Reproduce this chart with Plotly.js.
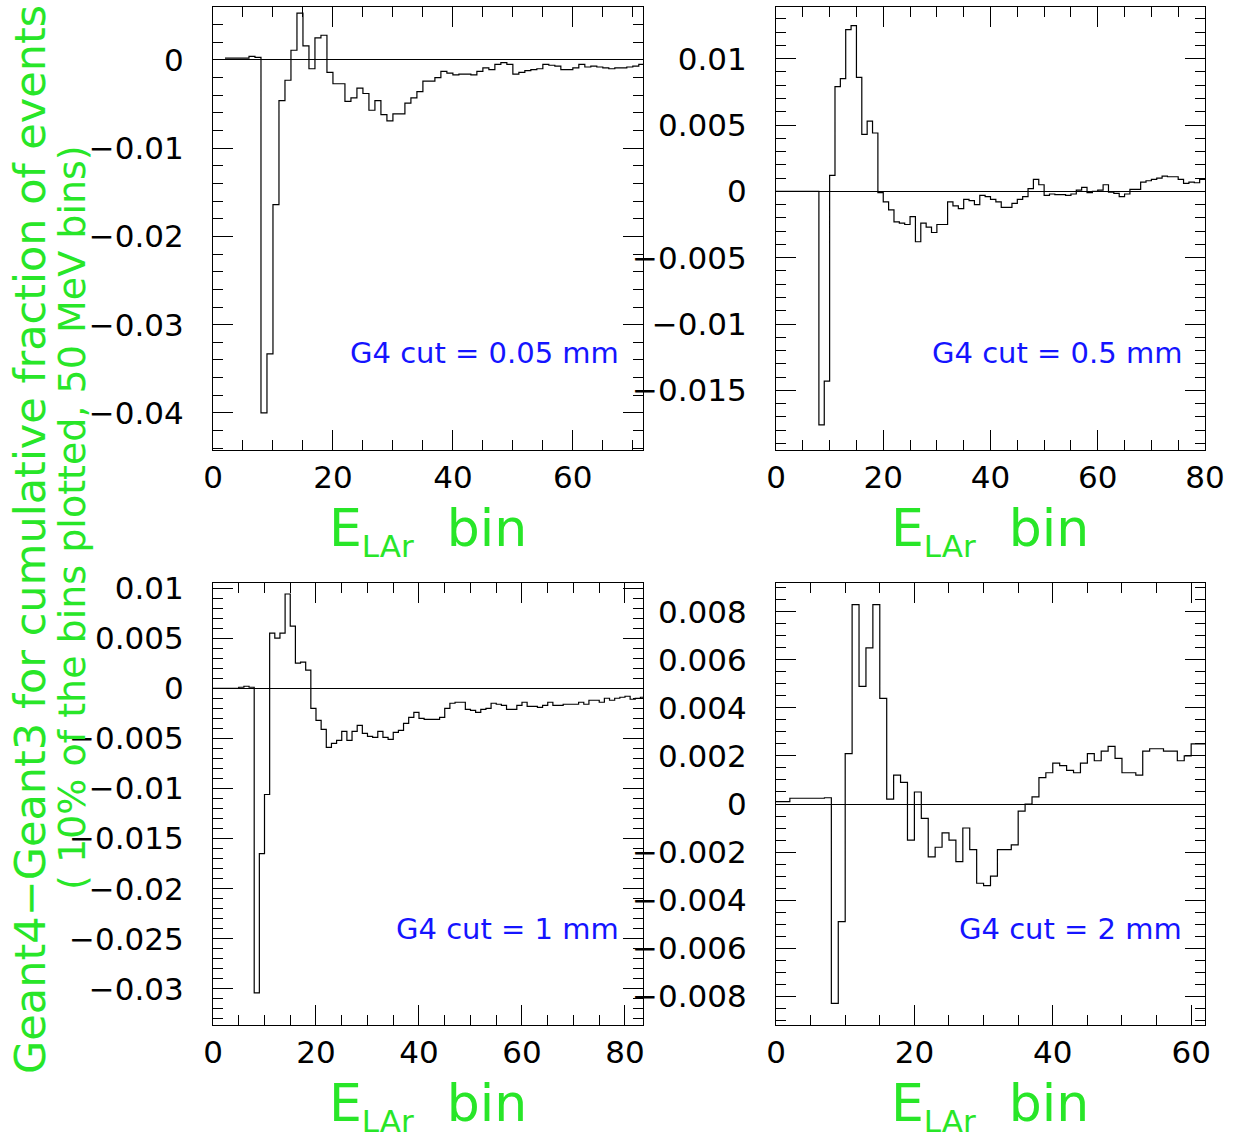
<!DOCTYPE html>
<html>
<head>
<meta charset="utf-8">
<script src="https://cdn.plot.ly/plotly-3.0.1.min.js"></script>
<style>html,body{margin:0;padding:0;background:#fff;}</style>
</head>
<body>
<div id="chart" style="width:1236px;height:1138px;"></div>
<script>
// ---- Data: Geant4 - Geant3 difference per E_LAr bin (bin width 1) ----
const startCut005 = 2;
const valsCut005 = [
  0.0002, 0.0002, 0.0002, 0.0002, 0.0004, 0.0003,
  -0.0400, -0.0333, -0.0164, -0.0046, -0.0023, 0.0011, 0.0053, 0.0016, -0.0010, 0.0025,
  0.0028, -0.0014, -0.0027, -0.0027, -0.0047, -0.0043, -0.0032, -0.0038, -0.0057, -0.0046,
  -0.0062, -0.0069, -0.0061, -0.0061, -0.0049, -0.0043, -0.0036, -0.0024, -0.0024, -0.0020,
  -0.0013, -0.0015, -0.0017, -0.0016, -0.0016, -0.0017, -0.0013, -0.0009, -0.0011, -0.0005,
  -0.0003, -0.0005, -0.0016, -0.0014, -0.0012, -0.0011, -0.0010, -0.0005, -0.0006, -0.0007,
  -0.0011, -0.0011, -0.0009, -0.0005, -0.0008, -0.0007, -0.0008, -0.0009, -0.0010, -0.0009,
  -0.0009, -0.0008, -0.0007, -0.0005
];

const startCut05 = 0;
const valsCut05 = [
  0, 0, 0, 0, 0, 0, 0, 0,
  -0.0176, -0.0143, 0.0012, 0.0079, 0.0085, 0.0122, 0.0125, 0.0086, 0.0043, 0.0053,
  0.0044, -0.0001, -0.0008, -0.0014, -0.0023, -0.0024, -0.0025, -0.0019, -0.0038, -0.0024,
  -0.0027, -0.0031, -0.0025, -0.0025, -0.0008, -0.0011, -0.0013, -0.0006, -0.0007, -0.0010,
  -0.0003, -0.0004, -0.0006, -0.0008, -0.0012, -0.0012, -0.0009, -0.0006, -0.0004, 0.0002,
  0.0009, 0.0005, -0.0003, -0.0002, -0.00025, -0.00025, -0.0003, -0.0002, 0.0001, 0.0003,
  -0.0001, 0.0000, 0.0001, 0.0005, -0.00005, -0.00015, -0.0004, -0.0002, 0.00015, 0.00015,
  0.0007, 0.0008, 0.0009, 0.0010, 0.00115, 0.0011, 0.0011, 0.0009, 0.0006, 0.0007,
  0.00065, 0.0009
];

const startCut1 = 0;
const valsCut1 = [
  0, 0, 0, 0, 0, 0.0001, 0.0002, 0.0001,
  -0.0304, -0.0165, -0.0106, 0.0055, 0.0050, 0.0055, 0.0094, 0.0062, 0.0025, 0.0026,
  0.0018, -0.0020, -0.0032, -0.0041, -0.0059, -0.0055, -0.0052, -0.0043, -0.0052, -0.0043,
  -0.0037, -0.0045, -0.0048, -0.0049, -0.0043, -0.0049, -0.0051, -0.0044, -0.0042, -0.0035,
  -0.0029, -0.0024, -0.0030, -0.0031, -0.0031, -0.0031, -0.0029, -0.0020, -0.0015, -0.0014,
  -0.0014, -0.0021, -0.0022, -0.0024, -0.0021, -0.0020, -0.0015, -0.0016, -0.0017, -0.0021,
  -0.0021, -0.0017, -0.0014, -0.0018, -0.0018, -0.0019, -0.0017, -0.0014, -0.0017, -0.0017,
  -0.0016, -0.0016, -0.0016, -0.0014, -0.0016, -0.0012, -0.0012, -0.0014, -0.0010, -0.0012,
  -0.0010, -0.0009, -0.0008, -0.0011, -0.0010, -0.0009
];

const startCut2 = 0;
const valsCut2 = [
  0.0001, 0.0001, 0.00024, 0.00024, 0.00024, 0.00024, 0.00024, 0.00026,
  -0.0083, -0.0049, 0.0021, 0.0083, 0.0049, 0.0065, 0.0083, 0.0044, 0.0002, 0.0012,
  0.0009, -0.0015, 0.0005, -0.0006, -0.0022, -0.0018, -0.0012, -0.0015, -0.0024, -0.0010,
  -0.0019, -0.0033, -0.0034, -0.0030, -0.0019, -0.0019, -0.0017, -0.0003, 0.0000, 0.0003,
  0.0011, 0.0013, 0.0017, 0.0016, 0.0014, 0.0013, 0.0017, 0.0021, 0.0018, 0.0022,
  0.0024, 0.0019, 0.0013, 0.0013, 0.0012, 0.0022, 0.0023, 0.0023, 0.0022, 0.0022,
  0.0018, 0.0020, 0.0025, 0.0025
];

const panelLabels = ["G4 cut = 0.05 mm", "G4 cut = 0.5 mm", "G4 cut = 1 mm", "G4 cut = 2 mm"];
const xTitle = "E<sub><span style=\"font-size:31px\">LAr</span></sub>\u00a0\u00a0bin";
const yTitleLine1 = "Geant4\u2212Geant3 for cumulative fraction of events";
const yTitleLine2 = "( 10% of the bins plotted, 50 MeV bins)";

// ---- Build step histograms ----
function steps(start, vals) {
  const x = [], y = [];
  vals.forEach((v, i) => { x.push(start + i); y.push(v); });
  x.push(start + vals.length); y.push(vals[vals.length - 1]);
  return { x, y };
}
const FONT = "DejaVu Sans, sans-serif";
const GREEN = "rgb(40,230,40)";
const BLUE = "rgb(20,20,255)";

const series = [
  [startCut005, valsCut005, "x", "y"],
  [startCut05, valsCut05, "x2", "y2"],
  [startCut1, valsCut1, "x3", "y3"],
  [startCut2, valsCut2, "x4", "y4"]
];
const traces = series.map(([s, v, xa, ya]) => {
  const st = steps(s, v);
  return { type: "scatter", mode: "lines", x: st.x, y: st.y, xaxis: xa, yaxis: ya,
           line: { shape: "hv", color: "black", width: 1.2 }, hoverinfo: "skip" };
});

function axis(domain, range, dtick, minorDtick, anchor, isY) {
  return {
    domain, range, anchor, autorange: false,
    tick0: 0, dtick: dtick, tickmode: "linear",
    ticks: "inside", ticklen: 20, tickwidth: 1, tickcolor: "black",
    showline: true, linecolor: "black", linewidth: 1, mirror: "ticks",
    showgrid: false,
    zeroline: !!isY, zerolinecolor: "black", zerolinewidth: 1,
    minor: { dtick: minorDtick, tick0: 0, ticks: "inside", ticklen: 10, tickwidth: 1, tickcolor: "black", showgrid: false },
    tickfont: { family: FONT, size: 31, color: "black" },
    ticklabelstandoff: isY ? 22 : 0,
    fixedrange: true
  };
}

const W = 1236, H = 1138;
const px = v => v / W, py = v => 1 - v / H;
const xL = [px(213), px(643)], xR = [px(776), px(1205)];
const yT = [py(450), py(7)], yB = [py(1025), py(583)];

const layout = {
  width: W, height: H,
  margin: { l: 0, r: 0, t: 0, b: 0 },
  paper_bgcolor: "white", plot_bgcolor: "white",
  showlegend: false,
  font: { family: FONT, color: "black" },
  xaxis: axis(xL, [0, 71.7], 20, 5, "y"),
  yaxis: axis(yT, [-0.0442, 0.006], 0.01, 0.002, "x", true),
  xaxis2: axis(xR, [0, 80], 20, 5, "y2"),
  yaxis2: axis(yT, [-0.0195, 0.0139], 0.005, 0.001, "x2", true),
  xaxis3: axis(xL, [0, 83.5], 20, 5, "y3"),
  yaxis3: axis(yB, [-0.0336, 0.0105], 0.005, 0.001, "x3", true),
  xaxis4: axis(xR, [0, 62], 20, 5, "y4"),
  yaxis4: axis(yB, [-0.0092, 0.0092], 0.002, 0.0005, "x4", true),
  annotations: [
    // panel labels
    { text: panelLabels[0], xref: "paper", yref: "paper", x: px(621), y: py(353), xanchor: "right", yanchor: "middle", showarrow: false, font: { family: FONT, size: 29, color: BLUE } },
    { text: panelLabels[1], xref: "paper", yref: "paper", x: px(1184), y: py(353), xanchor: "right", yanchor: "middle", showarrow: false, font: { family: FONT, size: 29, color: BLUE } },
    { text: panelLabels[2], xref: "paper", yref: "paper", x: px(621), y: py(929), xanchor: "right", yanchor: "middle", showarrow: false, font: { family: FONT, size: 29, color: BLUE } },
    { text: panelLabels[3], xref: "paper", yref: "paper", x: px(1184), y: py(929), xanchor: "right", yanchor: "middle", showarrow: false, font: { family: FONT, size: 29, color: BLUE } },
    // x titles
    { text: xTitle, xref: "paper", yref: "paper", x: px(428), y: py(531), xanchor: "center", yanchor: "middle", showarrow: false, font: { family: FONT, size: 52, color: GREEN } },
    { text: xTitle, xref: "paper", yref: "paper", x: px(990), y: py(531), xanchor: "center", yanchor: "middle", showarrow: false, font: { family: FONT, size: 52, color: GREEN } },
    { text: xTitle, xref: "paper", yref: "paper", x: px(428), y: py(1106), xanchor: "center", yanchor: "middle", showarrow: false, font: { family: FONT, size: 52, color: GREEN } },
    { text: xTitle, xref: "paper", yref: "paper", x: px(990), y: py(1106), xanchor: "center", yanchor: "middle", showarrow: false, font: { family: FONT, size: 52, color: GREEN } },
    // y title (two lines)
    { text: yTitleLine1, xref: "paper", yref: "paper", x: px(30), y: py(540), xanchor: "center", yanchor: "middle", textangle: -90, showarrow: false, font: { family: FONT, size: 43, color: GREEN } },
    { text: yTitleLine2, xref: "paper", yref: "paper", x: px(72), y: py(518), xanchor: "center", yanchor: "middle", textangle: -90, showarrow: false, font: { family: FONT, size: 38, color: GREEN } }
  ]
};

Plotly.newPlot("chart", traces, layout, { staticPlot: true, displayModeBar: false });
</script>
</body>
</html>
